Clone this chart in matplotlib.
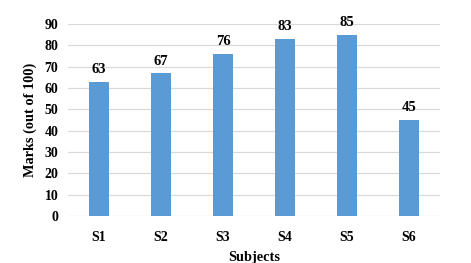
import matplotlib
matplotlib.use("Agg")
import matplotlib.pyplot as plt

subjects = ["S1", "S2", "S3", "S4", "S5", "S6"]
marks = [63, 67, 76, 83, 85, 45]
yticks = [0, 10, 20, 30, 40, 50, 60, 70, 80, 90]

plt.rcParams["font.family"] = ["Liberation Serif", "DejaVu Serif"]
plt.rcParams["font.weight"] = "bold"

fig = plt.figure(figsize=(4.71, 2.63), dpi=100)
ax = fig.add_axes([0.1444, 0.1787, 0.7898, 0.73])

x = range(len(subjects))
bars = ax.bar(x, marks, width=0.31, color="#5B9BD5", zorder=3)
for b, v in zip(bars, marks):
    ax.annotate(f"{v}", (b.get_x() + b.get_width() / 2, v), textcoords="offset points",
                xytext=(0, 4), ha="center", va="bottom", fontsize=10.5, fontweight="bold")

ax.set_xlim(-0.5, len(subjects) - 0.5)
ax.set_ylim(0, 90)
ax.set_yticks(yticks)
ax.set_xticks(list(x))
ax.set_xticklabels(subjects)
ax.tick_params(axis="both", length=0, labelsize=10)
ax.tick_params(axis="x", pad=10.5)
ax.tick_params(axis="y", pad=7)
ax.grid(axis="y", color="#d9d9d9", linewidth=0.9, zorder=0)
for sp in ax.spines.values():
    sp.set_visible(False)
ax.set_xlabel("Subjects", fontsize=10.3, fontweight="bold", labelpad=5)
ax.set_ylabel("Marks (out of 100)", fontsize=10.3, fontweight="bold", labelpad=5)

fig.savefig("out.png", dpi=100)
